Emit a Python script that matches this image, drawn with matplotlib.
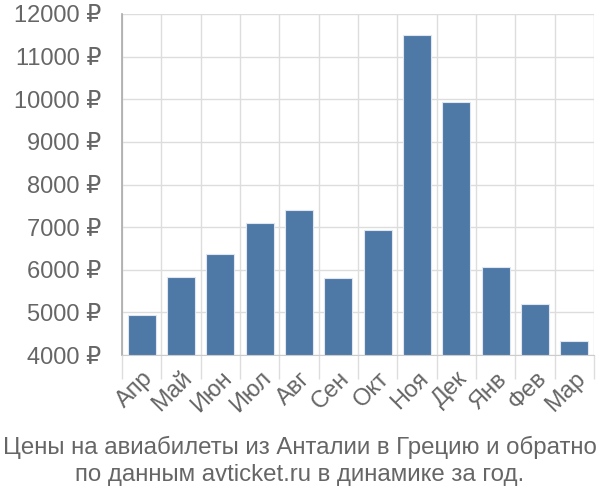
import matplotlib
matplotlib.use("Agg")
import matplotlib.pyplot as plt
import numpy as np

months = ["Апр", "Май", "Июн", "Июл", "Авг", "Сен", "Окт", "Ноя", "Дек", "Янв", "Фев", "Мар"]
prices = [4930, 5820, 6370, 7090, 7400, 5815, 6930, 11510, 9930, 6060, 5190, 4330]
yticks = [4000, 5000, 6000, 7000, 8000, 9000, 10000, 11000, 12000]
title_lines = ["Цены на авиабилеты из Анталии в Грецию и обратно",
               "по данным avticket.ru в динамике за год."]

plt.rcParams['font.family'] = ['Liberation Sans', 'DejaVu Sans']
txt = "#666666"
fs = 17

fig = plt.figure(figsize=(6, 5), dpi=100)
ax = fig.add_axes([122/600, 1-355/500, (594-122)/600, (355-14)/500])

x = np.arange(len(months))
ax.bar(x, [p - 4000 for p in prices], bottom=4000, width=0.72,
       color="#4e79a7", edgecolor="#dfe6ef", linewidth=0.8, zorder=3)

ax.set_xlim(-0.5, len(months) - 0.5)
ax.set_ylim(4000, 12000)
ax.set_yticks(yticks)
ax.set_yticklabels([f"{v} ₽" for v in yticks], color=txt, fontsize=fs)
ax.tick_params(axis='y', length=0, pad=15)

ax.set_xticks(x)
ax.set_xticklabels(months, rotation=45, ha='right', va='top', color=txt,
                   fontsize=fs, rotation_mode='anchor')
ax.tick_params(axis='x', which='major', length=0, pad=9)
ax.set_xticks(np.arange(-0.5, len(months)), minor=True)
ax.tick_params(axis='x', which='minor', length=17, color="#dddddd", width=1)

ax.grid(axis='y', color="#dddddd", linewidth=1, zorder=0)
ax.grid(axis='x', which='minor', color="#dddddd", linewidth=1, zorder=0)
ax.grid(axis='x', which='major', visible=False)

for s in ['top', 'right']:
    ax.spines[s].set_visible(False)
ax.spines['bottom'].set_color("#cccccc")
ax.spines['left'].set_color("#aaaaaa")
ax.spines['left'].set_linewidth(1.2)

fig.text(0.5, 1-447/500, title_lines[0], ha='center', va='center', color=txt, fontsize=17.3)
fig.text(0.5, 1-475/500, title_lines[1], ha='center', va='center', color=txt, fontsize=17.3)

fig.savefig("out.png", dpi=100)
